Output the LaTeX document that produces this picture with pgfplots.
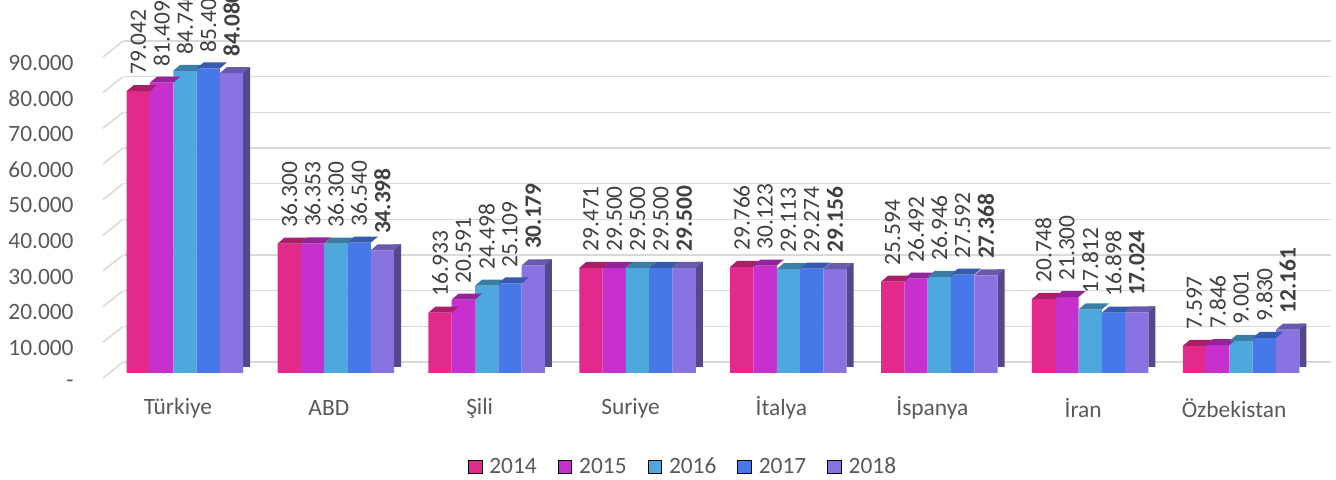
\documentclass[border=0pt]{standalone}
\usepackage{pgfplots}
\pgfplotsset{compat=1.18}
\usepackage{pgfplotstable}
\usepackage{fontspec}
\setmainfont{Carlito}
\definecolor{c2014}{RGB}{225,42,140}
\definecolor{c2015}{RGB}{198,48,204}
\definecolor{c2016}{RGB}{78,168,222}
\definecolor{c2017}{RGB}{71,120,232}
\definecolor{c2018}{RGB}{136,115,224}
\definecolor{gridc}{RGB}{217,217,217}
\definecolor{txt}{RGB}{89,89,89}
\definecolor{vtxt}{RGB}{64,64,64}
\newcommand\ff{\fontsize{11.7}{14}\selectfont}
\newcommand\deftop[2]{%
\pgfdeclareplotmark{#1}{%
  \pgfpathmoveto{\pgfpoint{#2-5.825pt}{0pt}}%
  \pgfpathlineto{\pgfpoint{#2+5.825pt}{0pt}}%
  \pgfpathlineto{\pgfpoint{#2+9.325pt}{3pt}}%
  \pgfpathlineto{\pgfpoint{#2-2.325pt}{3pt}}%
  \pgfpathclose
  \pgfusepathqfill}}
\deftop{topA}{-23.3pt}
\deftop{topB}{-11.65pt}
\deftop{topC}{0pt}
\deftop{topD}{11.65pt}
\deftop{topE}{23.3pt}
\pgfplotstableread{
x y2014 y2015 y2016 y2017 y2018
0 79042 81409 84740 85400 84080
1 36300 36353 36300 36540 34398
2 16933 20591 24498 25109 30179
3 29471 29500 29500 29500 29500
4 29766 30123 29113 29274 29156
5 25594 26492 26946 27592 27368
6 20748 21300 17812 16898 17024
7 7597 7846 9001 9830 12161
}\data
\begin{document}
\begin{tikzpicture}
\useasboundingbox (0,0) rectangle (668pt,240pt);
\begin{axis}[
  at={(54.75pt,53.5pt)}, anchor=south west,
  scale only axis, width=603.5pt, height=160.5pt,
  xmin=-0.5, xmax=7.5, ymin=0, ymax=90000,
  clip=false,
  ybar, bar width=11.65pt,
  axis line style={draw=none}, major tick length=0pt,
  xtick={0,...,7},
  xticklabels={Türkiye,ABD,Şili,Suriye,İtalya,İspanya,İran,Özbekistan},
  ytick={0,10000,20000,30000,40000,50000,60000,70000,80000,90000},
  yticklabels={-,10.000,20.000,30.000,40.000,50.000,60.000,70.000,80.000,90.000},
  scaled y ticks=false,
  ymajorgrids,
  major grid style={draw=gridc, line width=0.75pt, xshift=7pt, yshift=5.5pt},
  tick label style={font=\ff, text=txt},
  xticklabel style={anchor=center, yshift=-17.5pt, xshift=-3.5pt},
  yticklabel style={anchor=east, inner xsep=0pt, xshift=-17.75pt, yshift=-5.3pt},
  /pgf/number format/assume math mode=true,
  /pgf/number format/.cd, fixed, precision=0, 1000 sep={.},
  /pgfplots/.cd,
  nodes near coords,
  every node near coord/.append style={font=\ff, text=vtxt, rotate=90, anchor=west, inner xsep=8pt, inner ysep=0pt},
  legend columns=5,
  legend style={draw=none, fill=none, font=\ff, text=txt,
    at={(0.476,-0.2928)}, anchor=center,
    /tikz/every odd column/.append style={column sep=1.5pt},
    /tikz/every even column/.append style={column sep=8.5pt}},
  legend image code/.code={\fill[#1] (0pt,-3.4pt) rectangle (6.8pt,3.4pt);},
]
\addlegendimage{fill=c2014}
\addlegendimage{fill=c2015}
\addlegendimage{fill=c2016}
\addlegendimage{fill=c2017}
\addlegendimage{fill=c2018}
\pgfplotsinvokeforeach{0,10000,20000,30000,40000,50000,60000,70000,80000,90000}{
  \draw[gridc, line width=0.75pt] ([xshift=-3.25pt,yshift=-2.5pt]axis cs:-0.5,#1) -- ([xshift=6.75pt,yshift=5.5pt]axis cs:-0.5,#1);
}
\addplot[forget plot, fill=c2014, draw=none, bar shift=-23.3pt, mark=topA, mark options={fill=c2014!75!black, draw=none}] table[x=x,y=y2014]{\data};
\addplot[forget plot, fill=c2015, draw=none, bar shift=-11.65pt, mark=topB, mark options={fill=c2015!75!black, draw=none}] table[x=x,y=y2015]{\data};
\addplot[forget plot, fill=c2016, draw=none, bar shift=0pt, mark=topC, mark options={fill=c2016!75!black, draw=none}] table[x=x,y=y2016]{\data};
\addplot[forget plot, fill=c2017, draw=none, bar shift=11.65pt, mark=topD, mark options={fill=c2017!75!black, draw=none}] table[x=x,y=y2017]{\data};
\addplot[forget plot, fill=c2018!62!black, draw=none, bar width=3.5pt, bar shift=30.875pt, yshift=3pt, nodes near coords={}] table[x=x,y=y2018]{\data};
\addplot[forget plot, fill=c2018, draw=none, bar shift=23.3pt, mark=topE, mark options={fill=c2018!78!black, draw=none},
  every node near coord/.append style={font=\ff\bfseries}] table[x=x,y=y2018]{\data};
\legend{2014,2015,2016,2017,2018}
\end{axis}
\end{tikzpicture}
\end{document}
